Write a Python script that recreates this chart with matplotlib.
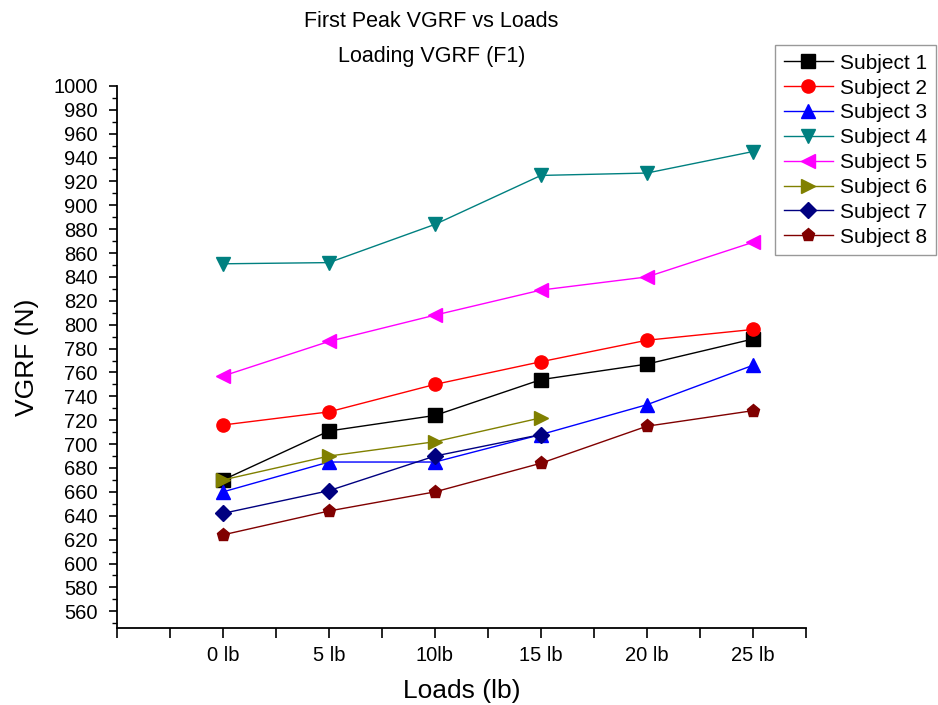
import numpy as np
import matplotlib.pyplot as plt
from matplotlib.ticker import MultipleLocator, FixedLocator

plt.rcParams['font.family'] = ['Liberation Sans', 'DejaVu Sans']

LOADS = ['0 lb', '5 lb', '10lb', '15 lb', '20 lb', '25 lb']

SUBJECT_1 = [670, 711, 724, 754, 767, 788]
SUBJECT_2 = [716, 727, 750, 769, 787, 796]
SUBJECT_3 = [660, 685, 685, 708, 733, 766]
SUBJECT_4 = [851, 852, 884, 925, 927, 945]
SUBJECT_5 = [757, 786, 808, 829, 840, 869]
SUBJECT_6 = [670, 690, 702, 722]
SUBJECT_7 = [642, 661, 690, 708]
SUBJECT_8 = [624, 644, 660, 684, 715, 728]

series = [
    ('Subject 1', SUBJECT_1, 'black', 's'),
    ('Subject 2', SUBJECT_2, 'red', 'o'),
    ('Subject 3', SUBJECT_3, 'blue', '^'),
    ('Subject 4', SUBJECT_4, '#008080', 'v'),
    ('Subject 5', SUBJECT_5, 'magenta', '<'),
    ('Subject 6', SUBJECT_6, '#808000', '>'),
    ('Subject 7', SUBJECT_7, '#000080', 'D'),
    ('Subject 8', SUBJECT_8, '#800000', 'p'),
]

fig = plt.figure(figsize=(9.38, 7.05), dpi=100)
ax = fig.add_axes([0.1247, 0.1092, 0.7345, 0.769])

x = np.arange(1, len(LOADS) + 1)
for name, vals, color, marker in series:
    ms = 8 if marker == 'D' else 9.5
    ax.plot(x[:len(vals)], vals, color=color, marker=marker, markersize=ms,
            linewidth=1, label=name)

ax.set_xlim(0, 6.5)
ax.set_ylim(546, 1000)
ax.xaxis.set_major_locator(FixedLocator(range(0, 7)))
ax.set_xticklabels([''] + LOADS)
ax.xaxis.set_minor_locator(MultipleLocator(0.5))
ax.set_yticks(np.arange(560, 1001, 20))
ax.yaxis.set_minor_locator(MultipleLocator(10))

for side in ['top', 'right']:
    ax.spines[side].set_visible(False)
ax.spines['left'].set_linewidth(1.3)
ax.spines['bottom'].set_linewidth(1.3)
ax.tick_params(axis='y', which='major', direction='out', length=6, width=1.2, labelsize=14.5, pad=8)
ax.tick_params(axis='y', which='minor', direction='out', length=3.5, width=1.0)
ax.tick_params(axis='x', which='major', direction='out', length=7, width=1.2, labelsize=14.5, pad=6)
ax.tick_params(axis='x', which='minor', direction='out', length=7, width=1.2)

ax.set_xlabel('Loads (lb)', fontsize=19, labelpad=10)
ax.set_ylabel('VGRF (N)', fontsize=19, labelpad=10)

fig.text(0.46, 0.970, 'First Peak VGRF vs Loads', ha='center', va='center', fontsize=15.5)
fig.text(0.46, 0.920, 'Loading VGRF (F1)', ha='center', va='center', fontsize=15.5)

leg = ax.legend(loc='upper left', bbox_to_anchor=(775 / 938, 1 - 45 / 705), bbox_transform=fig.transFigure,
                fontsize=15, frameon=True, fancybox=False, edgecolor='gray',
                handlelength=2.35, labelspacing=0.28, borderpad=0.42, handletextpad=0.35,
                borderaxespad=0)
leg.get_frame().set_linewidth(1.0)

fig.savefig('out.png', dpi=100)
